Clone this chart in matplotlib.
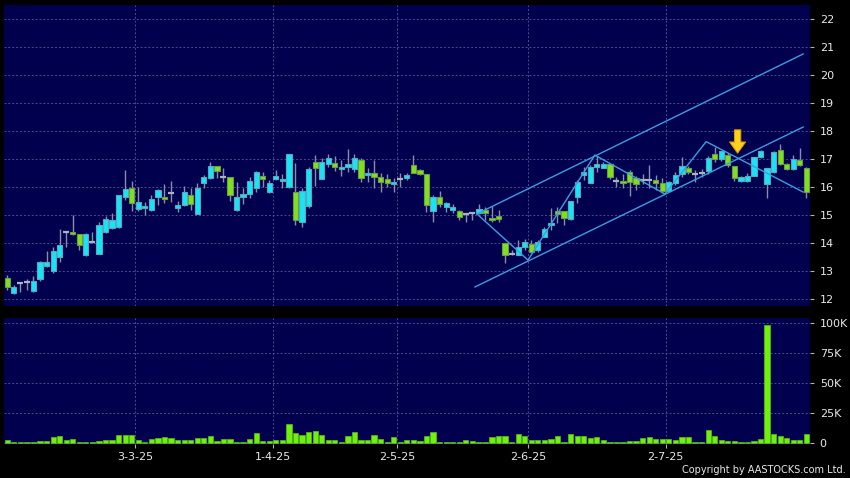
import numpy as np
import matplotlib
matplotlib.use("Agg")
import matplotlib.pyplot as plt

# daily candles (index 0 = first trading day shown)
opens = [12.75, 12.24, 12.57, 12.62, 12.30, 12.73, 13.19, 13.02, 13.50, 14.40,
         14.39, 14.32, 13.57, 14.03, 13.62, 14.39, 14.53, 14.57, 15.66, 15.96,
         15.21, 15.26, 15.20, 15.66, 15.65, 15.81, 15.27, 15.38, 15.71, 15.06,
         16.14, 16.32, 16.77, 16.36, 16.36, 15.18, 15.66, 15.75, 15.96, 16.42,
         15.82, 16.31, 16.22, 16.00, 15.82, 14.77, 15.34, 16.89, 16.31, 16.83,
         16.88, 16.64, 16.74, 16.64, 16.99, 16.44, 16.50, 16.36, 16.28, 16.13,
         16.31, 16.32, 16.80, 16.62, 16.46, 15.17, 15.67, 15.31, 15.18, 15.15,
         15.05, 15.07, 15.07, 15.19, 14.89, 14.97, 14.00, 13.61, 13.58, 13.85,
         13.98, 13.76, 14.24, 14.64, 15.17, 15.15, 14.87, 15.64, 16.44, 16.14,
         16.74, 16.70, 16.83, 16.22, 16.24, 16.54, 16.32, 16.26, 16.26, 16.26,
         16.14, 15.87, 16.14, 16.46, 16.68, 16.46, 16.50, 16.58, 17.20, 17.01,
         17.16, 16.77, 16.21, 16.21, 16.42, 17.07, 16.12, 16.56, 17.32, 16.82,
         16.66, 16.96, 16.68]
highs = [12.87, 12.51, 12.57, 12.73, 12.84, 13.37, 13.73, 13.87, 14.50, 14.40,
         15.01, 14.32, 14.36, 14.39, 14.75, 14.97, 15.07, 15.71, 16.62, 16.23,
         16.02, 15.49, 15.72, 15.93, 16.11, 16.23, 15.51, 16.06, 15.99, 16.14,
         16.44, 16.92, 16.77, 16.68, 16.36, 16.18, 15.96, 16.36, 16.59, 16.53,
         16.26, 16.62, 16.46, 17.18, 16.86, 15.96, 16.74, 17.15, 17.06, 17.18,
         17.12, 16.99, 17.36, 17.18, 17.03, 16.68, 16.99, 16.50, 16.46, 16.34,
         16.50, 16.50, 17.15, 16.65, 16.46, 15.72, 15.87, 15.49, 15.39, 15.19,
         15.09, 15.13, 15.40, 15.31, 15.34, 15.19, 14.00, 13.76, 14.12, 14.14,
         14.12, 14.12, 14.57, 15.25, 15.31, 15.15, 15.51, 16.26, 16.71, 16.80,
         17.12, 16.89, 16.83, 16.38, 16.46, 16.62, 16.42, 16.46, 16.80, 16.44,
         16.32, 16.23, 16.56, 17.09, 16.77, 16.62, 16.65, 17.10, 17.45, 17.30,
         17.21, 16.77, 16.42, 16.50, 17.09, 17.33, 16.68, 17.30, 17.55, 16.85,
         17.15, 17.40, 16.72]
lows = [12.33, 12.18, 12.25, 12.33, 12.27, 12.67, 13.17, 12.93, 13.34, 13.88,
        14.30, 13.75, 13.56, 14.00, 13.61, 14.36, 14.50, 14.55, 15.55, 15.15,
        15.17, 15.01, 15.15, 15.37, 15.44, 15.49, 15.13, 15.34, 15.19, 15.06,
        15.99, 16.30, 16.32, 16.20, 15.51, 15.15, 15.39, 15.61, 15.84, 16.00,
        15.81, 16.26, 15.96, 15.96, 14.65, 14.59, 15.25, 16.06, 16.30, 16.74,
        16.58, 16.42, 16.53, 16.56, 16.18, 16.20, 15.96, 15.84, 16.02, 15.82,
        16.00, 16.26, 16.50, 16.44, 15.13, 14.77, 15.31, 15.13, 15.09, 14.83,
        14.77, 14.83, 15.05, 14.83, 14.77, 14.77, 13.28, 13.58, 13.58, 13.76,
        13.64, 13.70, 14.21, 14.48, 14.71, 14.65, 14.83, 15.45, 16.26, 16.14,
        16.56, 16.68, 16.30, 16.02, 15.99, 15.69, 15.90, 16.10, 15.96, 15.90,
        15.78, 15.85, 16.08, 16.38, 16.46, 16.20, 16.35, 16.46, 16.92, 16.94,
        16.74, 16.23, 16.18, 16.18, 16.42, 17.04, 15.61, 16.50, 16.80, 16.62,
        16.62, 16.75, 15.61]
closes = [12.45, 12.43, 12.57, 12.62, 12.65, 13.32, 13.32, 13.71, 13.93, 14.40,
          14.32, 13.93, 14.32, 14.03, 14.64, 14.88, 14.82, 15.71, 15.93, 15.43,
          15.48, 15.33, 15.57, 15.90, 15.57, 15.81, 15.37, 15.82, 15.39, 15.96,
          16.35, 16.77, 16.59, 16.36, 15.71, 15.64, 15.75, 16.21, 16.56, 16.28,
          16.17, 16.42, 16.28, 17.18, 14.82, 15.88, 16.64, 16.70, 16.92, 17.06,
          16.74, 16.74, 16.82, 17.03, 16.32, 16.50, 16.38, 16.20, 16.14, 16.20,
          16.31, 16.44, 16.50, 16.46, 15.37, 15.67, 15.39, 15.43, 15.31, 14.93,
          15.05, 15.07, 15.21, 15.07, 14.82, 14.86, 13.58, 13.61, 13.85, 14.06,
          13.68, 14.06, 14.50, 14.71, 15.05, 14.89, 15.51, 16.20, 16.54, 16.71,
          16.83, 16.82, 16.38, 16.22, 16.14, 16.18, 16.12, 16.26, 16.26, 16.14,
          15.87, 16.18, 16.44, 16.77, 16.54, 16.46, 16.50, 17.04, 17.01, 17.28,
          16.80, 16.33, 16.36, 16.42, 17.07, 17.31, 16.68, 17.27, 16.83, 16.65,
          17.02, 16.79, 15.83]
# volume in thousands of shares
volumes = [2.2, 1.1, 0.8, 0.8, 0.8, 2.0, 2.0, 5.3, 5.8, 2.5,
           3.6, 1.1, 1.1, 1.1, 2.0, 2.8, 2.8, 6.4, 6.7, 6.4,
           2.5, 1.1, 3.3, 4.2, 5.0, 4.2, 2.2, 2.2, 2.2, 4.4,
           4.4, 5.6, 2.0, 3.3, 3.3, 1.1, 1.1, 3.3, 8.3, 2.0,
           2.0, 2.2, 2.5, 16.1, 8.3, 6.9, 9.4, 10.3, 6.4, 2.2,
           2.2, 1.1, 6.1, 8.9, 2.2, 2.2, 6.7, 3.3, 1.1, 5.0,
           1.1, 2.2, 2.8, 2.0, 5.6, 8.9, 1.1, 0.8, 1.1, 1.1,
           2.8, 2.0, 1.1, 1.1, 5.0, 5.6, 5.6, 1.1, 7.5, 5.6,
           2.2, 2.2, 2.2, 3.3, 6.1, 1.1, 7.8, 6.1, 5.6, 4.2,
           5.0, 2.8, 1.1, 0.8, 1.1, 2.0, 2.0, 4.2, 5.0, 3.3,
           3.3, 3.3, 2.8, 4.7, 5.0, 1.1, 1.1, 10.6, 6.1, 2.2,
           2.0, 2.0, 1.1, 0.6, 2.0, 3.3, 98.0, 7.5, 6.1, 4.2,
           2.8, 2.2, 7.8]

# date axis
tick_index = [20, 41, 60, 80, 101]
tick_labels = ["3-3-25", "1-4-25", "2-5-25", "2-6-25", "2-7-25"]
price_ticks = [12, 13, 14, 15, 16, 17, 18, 19, 20, 21, 22]
vol_ticks = [0, 25, 50, 75, 100]
vol_labels = ["0", "25K", "50K", "75K", "100K"]

# hand-drawn study lines (candle index, price)
upper_channel = [(71.7, 15.05), (121.5, 20.76)]
lower_channel = [(71.4, 12.44), (121.5, 18.15)]
zigzag = [(71.7, 15.05), (79.5, 13.40), (89.7, 17.15), (100.4, 15.76),
          (106.7, 17.63), (121.5, 15.83)]
arrow_tail = (111.5, 18.05)
arrow_tip = (111.5, 17.22)

BG = "#00004f"
GRID = "#4c4c8c"
TXT = "#e8e8e8"
UP = "#18e4f8"
UP_EDGE = "#5aa8bc"
DN = "#80e020"
DN_EDGE = "#6c9c48"
WICK = "#8c8ca4"
DOJI = "#a8b4c4"
LINE = "#3c9ee0"

o = np.array(opens)
h = np.array(highs)
l = np.array(lows)
c = np.array(closes)
x = np.arange(len(o))
grid_x = [t - 0.5 for t in tick_index]

fig = plt.figure(figsize=(8.5, 4.78), dpi=100, facecolor="black")
ax1 = fig.add_axes([4 / 850, 1 - 306 / 478, 806 / 850, 301 / 478])
ax2 = fig.add_axes([4 / 850, 1 - 444 / 478, 806 / 850, 126 / 478])

for ax in (ax1, ax2):
    ax.set_facecolor(BG)
    for s in ax.spines.values():
        s.set_visible(False)
    ax.set_xlim(-0.5, 122.55)
    ax.yaxis.tick_right()
    ax.tick_params(axis="y", length=3, width=0.8, color="#b0b0b0",
                   labelcolor=TXT, labelsize=8, pad=4)
    for gx in grid_x:
        ax.axvline(gx, color=GRID, lw=0.7, ls=(0, (2, 2)), zorder=0)

# price panel
ax1.set_ylim(11.76, 22.51)
ax1.set_yticks(price_ticks)
ax1.set_yticklabels([str(v) for v in price_ticks])
ax1.set_xticks([])
for v in price_ticks:
    ax1.axhline(v, color=GRID, lw=0.7, ls=(0, (2, 2)), zorder=0)

ax1.vlines(x, l, h, color=WICK, lw=1, zorder=2)
doji = np.abs(c - o) < 0.02
up = (c > o) & ~doji
dn = (c < o) & ~doji
ax1.bar(x[up], (c - o)[up], bottom=o[up], width=0.8, color=UP,
        edgecolor=UP_EDGE, lw=0.8, zorder=3)
ax1.bar(x[dn], (o - c)[dn], bottom=c[dn], width=0.8, color=DN,
        edgecolor=DN_EDGE, lw=0.8, zorder=3)
ax1.hlines(c[doji], x[doji] - 0.45, x[doji] + 0.45, color=DOJI, lw=1.6, zorder=3)

for pts in (upper_channel, lower_channel, zigzag):
    px, py = zip(*pts)
    ax1.plot(px, py, color=LINE, lw=1, zorder=4)

ax1.annotate("", xy=arrow_tip, xytext=arrow_tail,
             arrowprops=dict(arrowstyle="simple,head_width=1.15,head_length=0.8,tail_width=0.45",
                             fc="#ffd21f", ec="#e09a00", lw=0.8,
                             mutation_scale=10, shrinkA=0, shrinkB=0),
             zorder=5)

# volume panel
ax2.set_ylim(-0.8, 104)
ax2.set_yticks(vol_ticks)
ax2.set_yticklabels(vol_labels)
for v in vol_ticks:
    ax2.axhline(v, color=GRID, lw=0.7, ls=(0, (2, 2)), zorder=0)
ax2.bar(x, volumes, width=0.8, color="#70f010", edgecolor="#58c010",
        lw=0.5, zorder=3)
ax2.set_xticks(grid_x)
ax2.set_xticklabels(tick_labels)
ax2.tick_params(axis="x", length=3, width=0.8, color="#b0b0b0",
                labelcolor=TXT, labelsize=8, pad=3)

fig.text(0.995, 1 - 470 / 478, "Copyright by AASTOCKS.com Ltd.",
         ha="right", va="center", fontsize=7, color=TXT)

fig.savefig("out.png", dpi=100, facecolor="black")
